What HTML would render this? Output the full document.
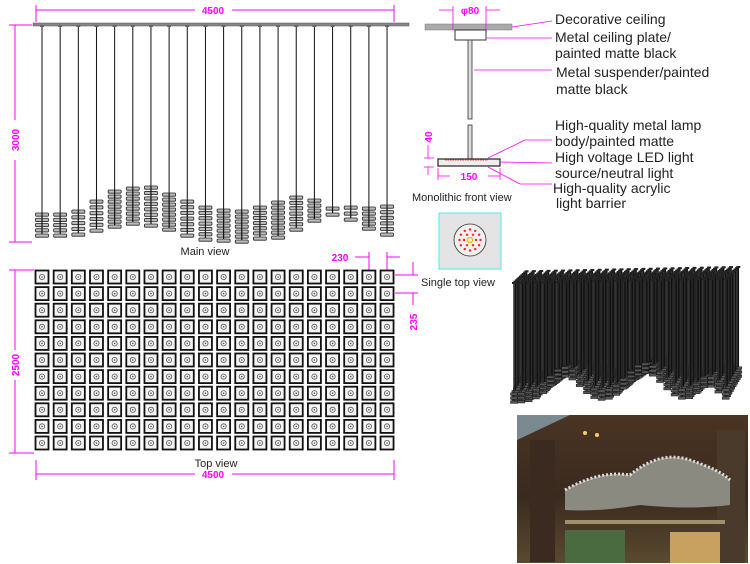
<!DOCTYPE html>
<html><head><meta charset="utf-8"><style>
body{margin:0;background:#fff;width:750px;height:564px;overflow:hidden;font-family:"Liberation Sans",sans-serif}
svg{display:block}
.m{fill:#ff00ff;font:bold 10px "Liberation Sans",sans-serif}
.l{font:14px "Liberation Sans",sans-serif;fill:#222}
.s{font:11px "Liberation Sans",sans-serif;fill:#222}
</style></head><body>
<svg id="s" width="750" height="564" viewBox="0 0 750 564" xmlns="http://www.w3.org/2000/svg">
<defs>
<linearGradient id="ph" x1="0" y1="0" x2="0" y2="1"><stop offset="0" stop-color="#4a3424"/><stop offset="0.55" stop-color="#3a2a1e"/><stop offset="1" stop-color="#5a4a30"/></linearGradient>
</defs>
<rect x="33" y="23" width="376" height="3" fill="#888" stroke="#555" stroke-width="0.5"/>
<g id="pend"></g>
<g stroke="#ff00ff" stroke-width="1" fill="none">
<line x1="36" y1="10" x2="195" y2="10"/><line x1="232" y1="10" x2="394" y2="10"/>
<line x1="36" y1="5" x2="36" y2="22"/><line x1="394" y1="5" x2="394" y2="22"/>
<line x1="15" y1="25" x2="15" y2="120"/><line x1="15" y1="160" x2="15" y2="242"/>
<line x1="9" y1="25" x2="32" y2="25"/><line x1="9" y1="242" x2="32" y2="242"/>
<line x1="15" y1="270" x2="15" y2="350"/><line x1="15" y1="380" x2="15" y2="453"/>
<line x1="9" y1="270" x2="34" y2="270"/><line x1="9" y1="453" x2="34" y2="453"/>
<line x1="36" y1="474" x2="195" y2="474"/><line x1="232" y1="474" x2="394" y2="474"/>
<line x1="36" y1="460" x2="36" y2="480"/><line x1="394" y1="460" x2="394" y2="480"/>
<line x1="355" y1="257" x2="369" y2="257"/><line x1="369" y1="252" x2="369" y2="270"/>
<line x1="387" y1="252" x2="387" y2="270"/><line x1="387" y1="257" x2="400" y2="257"/>
<line x1="395" y1="275" x2="418" y2="275"/><line x1="395" y1="293" x2="418" y2="293"/>
<line x1="413" y1="262" x2="413" y2="275"/><line x1="413" y1="293" x2="413" y2="305"/>
</g>
<text class="m" x="213" y="14" text-anchor="middle">4500</text>
<text class="m" x="213" y="478" text-anchor="middle">4500</text>
<text class="m" transform="translate(19,140) rotate(-90)" text-anchor="middle">3000</text>
<text class="m" transform="translate(19,365) rotate(-90)" text-anchor="middle">2500</text>
<text class="m" x="340" y="261" text-anchor="middle">230</text>
<text class="m" transform="translate(417,322) rotate(-90)" text-anchor="middle">235</text>
<text class="s" x="205" y="255" text-anchor="middle">Main view</text>
<text class="s" x="216" y="467" text-anchor="middle">Top view</text>
<g id="grid"></g>
<rect x="425" y="24" width="87" height="6" fill="#aaa" stroke="#777" stroke-width="0.5"/>
<rect x="455" y="30" width="31" height="10" fill="#fff" stroke="#333" stroke-width="1"/>
<rect x="468" y="40" width="4" height="79" fill="#ddd" stroke="#333" stroke-width="0.8"/>
<rect x="468" y="125" width="4" height="34" fill="#ddd" stroke="#333" stroke-width="0.8"/>
<rect x="438" y="159" width="62" height="7" fill="#eee" stroke="#222" stroke-width="1.2"/>
<line x1="445" y1="160" x2="488" y2="160" stroke="#e33" stroke-width="1" stroke-dasharray="1.5,1"/>
<g stroke="#ff00ff" stroke-width="0.8" fill="none">
<line x1="439" y1="10" x2="453" y2="10"/><line x1="486" y1="10" x2="500" y2="10"/>
<line x1="453" y1="6" x2="453" y2="30"/><line x1="486" y1="6" x2="486" y2="30"/>
<line x1="512" y1="27" x2="552" y2="21"/><line x1="487" y1="38" x2="552" y2="38"/>
<line x1="474" y1="70" x2="552" y2="70"/>
<line x1="488" y1="158" x2="525" y2="140" /><line x1="525" y1="140" x2="552" y2="140"/>
<line x1="500" y1="162" x2="552" y2="163"/>
<line x1="488" y1="167" x2="520" y2="184"/><line x1="520" y1="184" x2="552" y2="184"/>
<line x1="428" y1="145" x2="428" y2="158"/><line x1="428" y1="167" x2="428" y2="175"/>
<line x1="424" y1="158" x2="434" y2="158"/><line x1="424" y1="167" x2="434" y2="167"/>
<line x1="438" y1="168" x2="438" y2="180"/><line x1="500" y1="168" x2="500" y2="180"/>
<line x1="438" y1="176" x2="450" y2="176"/><line x1="488" y1="176" x2="500" y2="176"/>
</g>
<text class="m" x="470" y="14" text-anchor="middle">φ80</text>
<text class="m" transform="translate(432,137) rotate(-90)" text-anchor="middle">40</text>
<text class="m" x="469" y="180" text-anchor="middle">150</text>
<text class="l" x="555" y="24">Decorative ceiling</text>
<text class="l" x="555" y="42">Metal ceiling plate/</text>
<text class="l" x="555" y="58">painted matte black</text>
<text class="l" x="556" y="77">Metal suspender/painted</text>
<text class="l" x="556" y="94">matte black</text>
<text class="l" x="555" y="130">High-quality metal lamp</text>
<text class="l" x="555" y="146">body/painted matte</text>
<text class="l" x="555" y="162">High voltage LED light</text>
<text class="l" x="555" y="178">source/neutral light</text>
<text class="l" x="553" y="193">High-quality acrylic</text>
<text class="l" x="556" y="208">light barrier</text>
<text class="s" x="412" y="201">Monolithic front view</text>
<rect x="439" y="213" width="62" height="56" fill="#e4e4e4" stroke="#4ee" stroke-width="1"/>
<circle cx="470" cy="240" r="16" fill="#f0f0f0" stroke="#333" stroke-width="0.8"/>
<g id="dots"></g>
<circle cx="470" cy="240" r="2.5" fill="none" stroke="#e6c000" stroke-width="1.3"/>
<text class="s" x="421" y="286">Single top view</text>
<g id="r3"></g>
<rect x="517" y="415" width="231" height="148" fill="url(#ph)"/>
<polygon points="517,415 570,415 517,440" fill="#7a8a90"/>
<rect x="530" y="440" width="25" height="122" fill="#3a2a20"/>
<rect x="717" y="430" width="28" height="133" fill="#4a3a2c"/>
<path d="M565,490 Q600,470 630,475 Q660,450 690,460 Q720,470 730,480 L730,505 Q690,510 640,505 Q600,512 565,510 Z" fill="#8a8a80"/>
<path d="M565,490 Q600,470 630,475 Q660,450 690,460 Q720,470 730,480" fill="none" stroke="#ddd" stroke-width="3" stroke-dasharray="2,2"/>
<rect x="565" y="520" width="160" height="4" fill="#a09070"/>
<rect x="565" y="530" width="60" height="33" fill="#4a6a40"/>
<rect x="670" y="532" width="50" height="31" fill="#c8a060"/>
<circle cx="585" cy="433" r="2" fill="#ffcc66"/><circle cx="597" cy="435" r="2" fill="#ffcc66"/>
</svg>
<script>
var NS="http://www.w3.org/2000/svg";
function el(p,t,a){var e=document.createElementNS(NS,t);for(var k in a)e.setAttribute(k,a[k]);p.appendChild(e);return e;}
var P=document.getElementById("pend");
var tops=[213,213,210,200,190,187,186,193,200,206,209,210,206,201,196,199,207,206,207,205];
var bots=[237,237,236,232,228,225,227,231,237,241,242,243,240,239,231,222,216,221,230,236];
for(var i=0;i<20;i++){var x=42+i*18.16;
el(P,"rect",{x:x-2,y:25,width:4,height:2,fill:"#666"});
el(P,"line",{x1:x,y1:27,x2:x,y2:tops[i],stroke:"#111","stroke-width":1});
var n=Math.max(1,Math.round((bots[i]-tops[i])/5));var st=(bots[i]-tops[i]-3)/Math.max(1,n-1);
for(var k=0;k<n;k++){var y=tops[i]+k*st;el(P,"rect",{x:x-6.5,y:y,width:13,height:3.2,rx:1,fill:"#bbb",stroke:"#222","stroke-width":0.8});}
el(P,"line",{x1:x,y1:tops[i],x2:x,y2:bots[i]-3,stroke:"#111","stroke-width":1.2});}
var G=document.getElementById("grid");
for(var r=0;r<11;r++)for(var c=0;c<20;c++){var x=42+c*18.16,y=277+r*16.6;
el(G,"rect",{x:x-6.5,y:y-6.5,width:13,height:13,fill:"#f4f4f4",stroke:"#111","stroke-width":1.8});
el(G,"circle",{cx:x,cy:y,r:2.6,fill:"none",stroke:"#555","stroke-width":0.8});
el(G,"circle",{cx:x,cy:y,r:0.8,fill:"#555"});}
var D=document.getElementById("dots");
[[6,6],[10.5,12]].forEach(function(a){for(var k=0;k<a[1];k++){var t=k/a[1]*6.283;el(D,"circle",{cx:470+a[0]*Math.cos(t),cy:240+a[0]*Math.sin(t),r:1.2,fill:"#f22"});}});
var R=document.getElementById("r3");
function bump(x){return 28*Math.exp(-Math.pow((x-565)/22,2))+32*Math.exp(-Math.pow((x-645)/25,2))+18*Math.exp(-Math.pow((x-708)/15,2));}
for(var j=9;j>=0;j--){for(var i=0;i<30;i++){
var x0=514+i*7.3+j*1.4, y0=283-j*1.3-i*0.15;
var yb=402-j*2.5-bump(x0-j*2)*(0.4+0.06*(9-j));
el(R,"line",{x1:x0,y1:y0,x2:x0,y2:yb,stroke:(j%2?"#111":"#2a2a2a"),"stroke-width":1.5});
for(var k=0;k<3;k++)el(R,"rect",{x:x0-3.5,y:yb-k*4-1,width:7,height:2.5,fill:"#555",stroke:"#111","stroke-width":0.5});
el(R,"rect",{x:x0-2,y:y0-1,width:4,height:2,fill:"#222"});}}
</script>
</body></html>
